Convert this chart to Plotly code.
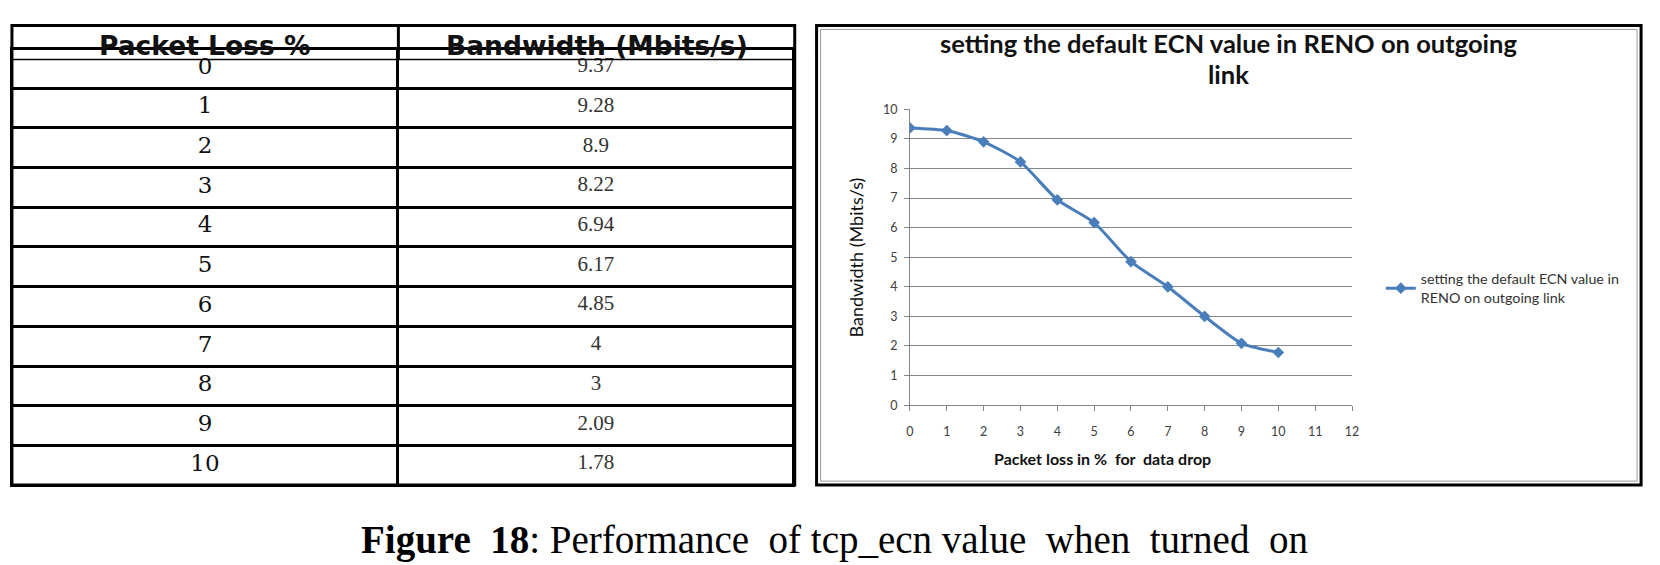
import plotly.graph_objects as go

# ---- data ----
packet_loss = [0, 1, 2, 3, 4, 5, 6, 7, 8, 9, 10]
bandwidth = [9.37, 9.28, 8.9, 8.22, 6.94, 6.17, 4.85, 4, 3, 2.09, 1.78]
bandwidth_labels = ["9.37", "9.28", "8.9", "8.22", "6.94", "6.17", "4.85", "4", "3", "2.09", "1.78"]
table_headers = ["Packet Loss %", "Bandwidth (Mbits/s)"]
x_ticks = list(range(0, 13))
y_ticks = list(range(0, 11))
series_name = "setting the default ECN value in<br>RENO on outgoing link"
title_lines = ["setting the default ECN value in RENO on outgoing", "link"]
x_title = "Packet loss in %&nbsp; for&nbsp; data drop"
y_title = "Bandwidth (Mbits/s)"
caption = "<b>Figure&nbsp; 18</b>: Performance&nbsp;&nbsp;of tcp_ecn value&nbsp; when&nbsp; turned&nbsp; on"

W, H = 1660, 565
def px(x):
    return x / W
def py(y):
    return 1 - y / H

BLUE = "#4A7EBB"
GRID = "#868686"
CHART_FONT = "Lato"

TBL_L, TBL_R, TBL_T, TBL_B = 8, 796, 18, 490
COL_SPLIT = 397
HEADER_H = 35
BODY_T = TBL_T + HEADER_H
ROW_H = (TBL_B - BODY_T) / len(packet_loss)
EMPTY_HDR = 28  # space plotly keeps for an empty table header

fig = go.Figure()

# ---- table body (header row is drawn with frame lines + text below) ----
fig.add_trace(go.Table(
    domain=dict(x=[px(TBL_L), px(TBL_R)], y=[py(TBL_B + 10), py(BODY_T - EMPTY_HDR)]),
    columnwidth=[COL_SPLIT - TBL_L, TBL_R - COL_SPLIT],
    header=dict(values=[], line=dict(width=0), fill=dict(color="rgba(0,0,0,0)")),
    cells=dict(
        values=[[str(v) for v in packet_loss], bandwidth_labels],
        align="center",
        height=ROW_H,
        fill=dict(color="white"),
        line=dict(color="black", width=3),
        font=dict(family=["DejaVu Serif", "Liberation Serif"], size=[23, 21],
                  color=["#111111", "#333333"]),
    ),
))

# ---- line chart ----
fig.add_trace(go.Scatter(
    x=packet_loss, y=bandwidth, mode="lines+markers", name=series_name,
    line=dict(color=BLUE, width=3, shape="spline", smoothing=0.6),
    marker=dict(symbol="diamond", size=9, color=BLUE),
    xaxis="x", yaxis="y",
))

axis_common = dict(
    showline=True, linecolor=GRID, linewidth=1,
    ticks="outside", ticklen=5, tickcolor=GRID, tickwidth=1,
    tickfont=dict(family=CHART_FONT, size=12.5, color="#404040"),
    zeroline=False, fixedrange=True,
)

annotations = [
    dict(text=f"<b>{title_lines[0]}</b>", x=px(1233), y=py(36), xref="paper", yref="paper",
         showarrow=False, font=dict(family=CHART_FONT, size=25.5, color="#111111"),
         xanchor="center", yanchor="middle"),
    dict(text=f"<b>{title_lines[1]}</b>", x=px(1233), y=py(68), xref="paper", yref="paper",
         showarrow=False, font=dict(family=CHART_FONT, size=25.5, color="#111111"),
         xanchor="center", yanchor="middle"),
    dict(text=f"<b>{x_title}</b>", x=px(1106), y=py(463), xref="paper", yref="paper",
         showarrow=False, font=dict(family=CHART_FONT, size=16, color="#111111"),
         xanchor="center", yanchor="middle"),
    dict(text=y_title, x=px(858), y=py(256), xref="paper", yref="paper",
         showarrow=False, textangle=-90, font=dict(family=CHART_FONT, size=18, color="#111111"),
         xanchor="center", yanchor="middle"),
    dict(text=caption, x=px(836), y=py(547), xref="paper", yref="paper",
         showarrow=False, font=dict(family="Liberation Serif", size=39, color="black"),
         xanchor="center", yanchor="middle"),
]
# table header texts
col_centers = [(TBL_L + COL_SPLIT) / 2, (COL_SPLIT + TBL_R) / 2]
for h, cx in zip(table_headers, col_centers):
    annotations.append(dict(text=f"<b>{h}</b>", x=px(cx), y=py(TBL_T + 3),
                            xref="paper", yref="paper", showarrow=False,
                            font=dict(family="DejaVu Sans", size=26.5, color="#111111"),
                            xanchor="center", yanchor="top"))

fig.update_layout(
    width=W, height=H, autosize=False,
    margin=dict(l=0, r=0, t=0, b=0),
    paper_bgcolor="white", plot_bgcolor="white",
    xaxis=dict(domain=[px(912), px(1357)], range=[0, 12], tickvals=x_ticks,
               showgrid=False, anchor="y", ticklabelstandoff=10, **axis_common),
    yaxis=dict(domain=[py(408), py(104)], range=[0, 10], tickvals=y_ticks,
               showgrid=True, gridcolor=GRID, gridwidth=1, anchor="x", ticklabelstandoff=4,
               **axis_common),
    showlegend=True,
    legend=dict(x=px(1386), y=py(262), xanchor="left", yanchor="top",
                font=dict(family=CHART_FONT, size=14.3, color="#333333"),
                bgcolor="rgba(0,0,0,0)", itemwidth=30, tracegroupgap=0),
    annotations=annotations,
    shapes=[
        # table header row: bottom rule and column divider
        dict(type="line", xref="paper", yref="paper", x0=px(TBL_L), x1=px(TBL_R), y0=py(BODY_T), y1=py(BODY_T),
             line=dict(color="black", width=1.5)),
        dict(type="line", xref="paper", yref="paper", x0=px(COL_SPLIT), x1=px(COL_SPLIT), y0=py(BODY_T), y1=py(TBL_T),
             line=dict(color="black", width=3)),
        # table outer frame
        dict(type="rect", xref="paper", yref="paper", x0=px(TBL_L), x1=px(TBL_R), y0=py(TBL_B), y1=py(TBL_T),
             line=dict(color="black", width=3), fillcolor="rgba(0,0,0,0)", layer="above"),
        # chart frame (double border)
        dict(type="rect", xref="paper", yref="paper", x0=px(818), x1=px(1648), y0=py(TBL_B), y1=py(TBL_T),
             line=dict(color="black", width=3), fillcolor="rgba(0,0,0,0)", layer="below"),
        dict(type="rect", xref="paper", yref="paper", x0=px(822), x1=px(1644), y0=py(TBL_B - 4), y1=py(TBL_T + 4),
             line=dict(color="#9a9a9a", width=1), fillcolor="rgba(0,0,0,0)", layer="below"),
    ],
)

fig.write_html("out.html", post_script="document.body.style.margin='0';",
               config={"displayModeBar": False})
